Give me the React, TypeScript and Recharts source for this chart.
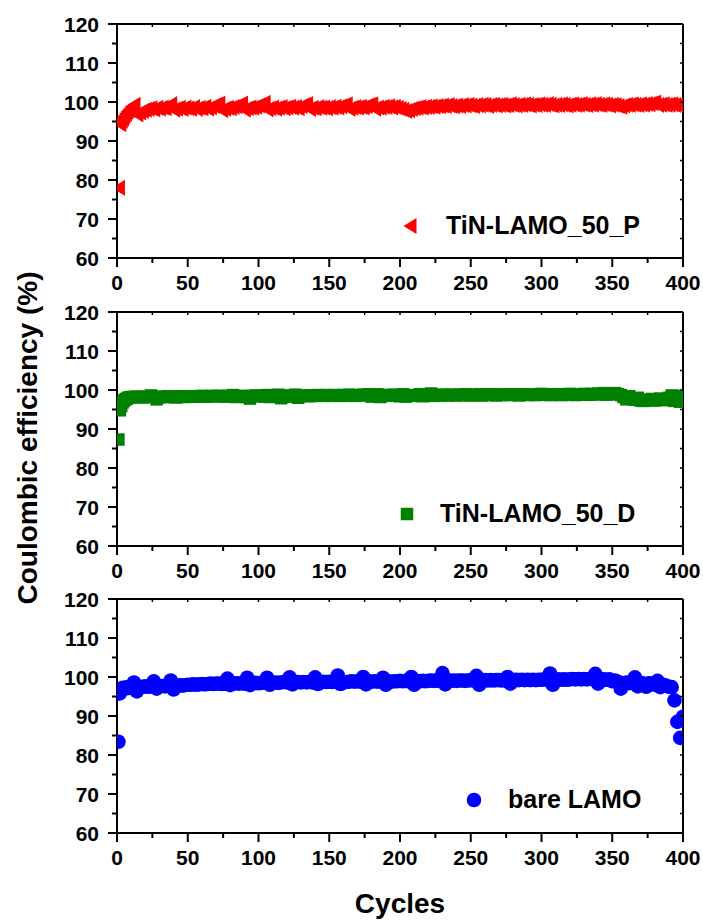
import React from "react";
import { ScatterChart, Scatter, XAxis, YAxis } from "recharts";

const FONT = "'Liberation Sans', Arial, sans-serif";

const xTicks = [0, 25, 50, 75, 100, 125, 150, 175, 200, 225, 250, 275, 300, 325, 350, 375, 400];
const yTicks = [60, 65, 70, 75, 80, 85, 90, 95, 100, 105, 110, 115, 120];

// cycles 1..10
const redEarly = [78, 94.3, 95.2, 95.8, 96.4, 97.0, 97.5, 97.9, 98.3, 98.8];
// cycles 12, 14, ..., 400
const redLate = [
  99.3, 96.8, 97.3, 97.7, 98.0, 98.2, 98.4, 98.1, 98.5, 98.3,
  98.6, 98.4, 98.9, 99.5, 98.0, 98.3, 98.5, 98.2, 98.6, 98.4,
  98.3, 98.7, 98.2, 98.5, 98.4, 98.8, 98.3, 98.6, 99.0, 99.3,
  99.6, 97.9, 98.3, 98.5, 98.4, 98.7, 98.9, 99.2, 99.6, 98.0,
  98.4, 98.6, 98.5, 98.8, 99.1, 99.4, 99.8, 98.1, 98.4, 98.6,
  98.3, 98.5, 98.7, 98.4, 98.6, 98.8, 98.5, 98.7, 98.4, 98.9,
  99.2, 99.5, 98.2, 98.5, 98.4, 98.7, 98.5, 98.6, 98.4, 98.7,
  98.5, 98.8, 98.6, 98.9, 99.1, 99.4, 98.2, 98.5, 98.7, 98.6,
  98.8, 98.6, 98.9, 99.2, 99.4, 98.3, 98.6, 98.5, 98.8, 98.7,
  98.9, 98.6, 98.8, 98.5, 98.3, 98.0, 97.7, 97.9, 98.2, 98.4,
  98.5, 98.7, 98.6, 98.8, 98.7, 98.9, 98.8, 99.0, 98.9, 99.1,
  99.0, 99.2, 99.0, 98.9, 99.1, 99.0, 99.2, 99.1, 99.3, 99.1,
  99.0, 99.2, 99.1, 99.3, 99.2, 99.0, 99.2, 99.3, 99.1, 99.2,
  99.3, 99.1, 99.2, 99.4, 99.2, 99.1, 99.3, 99.2, 99.4, 99.3,
  99.1, 99.3, 99.2, 99.4, 99.3, 99.2, 99.5, 99.3, 99.1, 99.3,
  99.2, 99.4, 99.3, 99.1, 99.3, 99.4, 99.2, 99.3, 99.5, 99.3,
  99.2, 99.4, 99.3, 99.5, 99.3, 99.2, 99.4, 99.3, 99.1, 99.3,
  99.2, 99.0, 98.8, 99.1, 99.3, 99.2, 99.4, 99.3, 99.2, 99.4,
  99.3, 99.5, 99.4, 99.7, 99.9, 99.2, 99.3, 99.4, 99.2, 99.3,
  99.4, 99.2, 99.3, 99.4, 99.3,
];

const greenEarly = [87.3, 94.8, 95.9, 96.8, 97.3, 97.6, 97.8, 98.0, 98.1, 98.2];
const greenLate = [
  98.2, 98.3, 98.2, 98.1, 98.2, 98.3, 98.6, 98.2, 97.6, 98.1,
  98.3, 98.2, 98.4, 98.3, 98.2, 98.1, 98.3, 98.4, 98.2, 98.3,
  98.4, 98.3, 98.4, 98.3, 98.5, 98.4, 98.3, 98.4, 98.5, 98.4,
  98.5, 98.4, 98.3, 98.5, 98.4, 98.7, 98.2, 98.4, 98.5, 98.4,
  98.2, 97.8, 98.5, 98.6, 98.4, 98.5, 98.3, 98.7, 98.2, 98.4,
  98.5, 98.8, 97.9, 98.4, 98.5, 98.6, 98.3, 98.8, 98.0, 98.5,
  98.6, 98.5, 98.4, 98.6, 98.5, 98.7, 98.6, 98.5, 98.7, 98.6,
  98.5, 98.7, 98.6, 98.5, 98.7, 98.6, 98.8, 98.6, 98.5, 98.7,
  98.6, 98.8, 98.7, 98.9, 98.3, 98.6, 98.9, 98.2, 98.7, 98.6,
  98.7, 98.5, 98.8, 98.6, 98.4, 98.9, 98.3, 98.6, 98.5, 98.7,
  98.6, 98.9, 98.4, 98.7, 98.8, 99.1, 98.5, 98.7, 98.6, 98.8,
  98.7, 98.6, 98.8, 98.7, 98.6, 98.8, 98.7, 98.9, 98.7, 98.6,
  98.8, 98.7, 98.9, 98.6, 98.8, 98.7, 98.9, 98.8, 98.6, 98.8,
  98.7, 98.9, 98.8, 98.7, 98.9, 98.8, 98.6, 98.8, 98.9, 98.7,
  98.8, 98.9, 98.7, 98.8, 99.0, 98.8, 98.9, 98.7, 98.8, 98.9,
  98.8, 98.7, 98.9, 98.8, 99.0, 98.9, 98.7, 98.9, 98.8, 99.0,
  98.9, 98.8, 99.0, 98.9, 99.1, 98.9, 99.2, 98.8, 99.0, 99.1,
  99.2, 98.9, 98.7, 98.2, 97.6, 98.4, 97.8, 97.5, 98.0, 97.3,
  97.2, 97.5, 97.4, 97.7, 97.3, 97.6, 97.8, 97.4, 97.5, 98.0,
  98.6, 97.2, 98.4, 97.0, 98.5,
];

const blueEarly = [83.4, 95.8, 96.8, 97.2, 97.0, 97.3, 97.1, 97.4, 97.2, 97.5];
const blueLate = [
  98.6, 96.3, 97.4, 97.5, 97.6, 97.5, 97.6, 98.9, 97.0, 97.6,
  97.7, 97.6, 97.8, 99.1, 96.8, 97.7, 97.9, 97.8, 97.9, 98.0,
  98.0, 98.1, 98.0, 98.1, 98.2, 98.1, 98.2, 98.3, 98.2, 98.3,
  98.3, 98.2, 98.3, 99.6, 97.9, 98.3, 98.4, 98.3, 98.4, 98.3,
  99.8, 97.9, 98.4, 98.5, 98.4, 98.5, 98.6, 99.8, 98.0, 98.5,
  98.6, 98.5, 98.6, 98.7, 98.6, 99.9, 98.1, 98.6, 98.7, 98.6,
  98.7, 98.6, 98.7, 98.6, 99.9, 98.2, 98.7, 98.8, 98.7, 98.8,
  98.7, 98.8, 100.4, 98.2, 98.8, 98.7, 98.8, 98.9, 98.8, 98.9,
  98.8, 100.0, 98.1, 98.9, 98.8, 98.9, 98.8, 98.9, 99.8, 98.0,
  98.9, 98.8, 98.9, 98.9, 99.0, 98.9, 99.0, 98.9, 100.0, 98.0,
  99.0, 98.9, 99.0, 98.9, 99.0, 99.1, 99.0, 99.1, 99.0, 101.0,
  98.1, 99.1, 99.0, 99.1, 99.0, 99.1, 99.1, 99.0, 99.1, 99.2,
  99.1, 100.3, 98.0, 99.1, 99.2, 99.1, 99.2, 99.1, 99.2, 99.2,
  99.1, 99.2, 100.0, 98.3, 99.2, 99.3, 99.2, 99.3, 99.2, 99.3,
  99.2, 99.3, 99.2, 99.3, 99.3, 99.4, 99.3, 100.9, 98.0, 99.3,
  99.4, 99.3, 99.4, 99.3, 99.4, 99.5, 99.4, 99.5, 99.4, 99.5,
  99.4, 99.5, 99.6, 100.8, 98.3, 99.5, 99.4, 99.3, 99.4, 98.9,
  99.1, 98.8, 97.0, 98.3, 98.6, 98.4, 98.5, 99.9, 97.6, 98.5,
  98.3, 97.5, 98.4, 98.3, 98.0, 99.0, 97.4, 98.0, 97.8, 97.5,
  97.4, 94.0, 88.5, 84.4, 89.8,
];

function toPoints(early: number[], late: number[]) {
  const pts = early.map((v, i) => ({ cycle: i + 1, ce: v }));
  late.forEach((v, i) => pts.push({ cycle: 12 + i * 2, ce: v }));
  return pts;
}

const redData = toPoints(redEarly, redLate);
const greenData = toPoints(greenEarly, greenLate);
const blueData = toPoints(blueEarly, blueLate);

const RED = "#ff0000";
const GREEN = "#008000";
const BLUE = "#0000ff";

const triangleShape = (p: any) => (
  <polygon
    points={`${p.cx - 6.5},${p.cy} ${p.cx + 6.5},${p.cy - 8} ${p.cx + 6.5},${p.cy + 8}`}
    fill={RED}
  />
);
const squareShape = (p: any) => (
  <rect x={p.cx - 6.25} y={p.cy - 6.25} width={12.5} height={12.5} fill={GREEN} />
);
const circleShape = (p: any) => <circle cx={p.cx} cy={p.cy} r={7.3} fill={BLUE} />;
const noShape = () => <g />;

const BottomTick = ({ x, y, payload }: any) => {
  const major = payload.value % 50 === 0;
  return (
    <g>
      <line x1={x} x2={x} y1={y} y2={y + (major ? 9 : 5)} stroke="#000" strokeWidth={2} />
      {major && (
        <text x={x} y={y + 32} textAnchor="middle" fontSize={21} fontWeight="bold" fontFamily={FONT} fill="#000">
          {payload.value}
        </text>
      )}
    </g>
  );
};

const LeftTick = ({ x, y, payload }: any) => {
  const major = payload.value % 10 === 0;
  return (
    <g>
      <line x1={x} x2={x - (major ? 9 : 5)} y1={y} y2={y} stroke="#000" strokeWidth={2} />
      {major && (
        <text x={x - 18} y={y} dy="0.36em" textAnchor="end" fontSize={21} fontWeight="bold" fontFamily={FONT} fill="#000">
          {payload.value}
        </text>
      )}
    </g>
  );
};

const TopTick = ({ x, y }: any) => <line x1={x} x2={x} y1={y} y2={y + 3} stroke="#000" strokeWidth={1.5} />;
const RightTick = ({ x, y }: any) => <line x1={x} x2={x - 3} y1={y} y2={y} stroke="#000" strokeWidth={1.5} />;

const axisLine = { stroke: "#000", strokeWidth: 2 };

function Panel({ data, shape, top }: { data: any[]; shape: any; top: number }) {
  return (
    <div style={{ position: "absolute", left: 0, top }}>
      <ScatterChart width={703} height={284} margin={{ top: 9, right: 19, bottom: 0, left: 0 }}>
        <XAxis
          xAxisId="b"
          type="number"
          dataKey="cycle"
          domain={[0, 400]}
          ticks={xTicks}
          interval={0}
          allowDataOverflow
          height={40}
          axisLine={axisLine}
          tickLine={false}
          tickSize={0}
          tickMargin={0}
          tick={BottomTick}
        />
        <XAxis
          xAxisId="t"
          orientation="top"
          type="number"
          dataKey="cycle"
          domain={[0, 400]}
          ticks={xTicks}
          interval={0}
          allowDataOverflow
          height={1}
          axisLine={axisLine}
          tickLine={false}
          tickSize={0}
          tickMargin={0}
          tick={TopTick}
        />
        <YAxis
          yAxisId="l"
          type="number"
          dataKey="ce"
          domain={[60, 120]}
          ticks={yTicks}
          interval={0}
          allowDataOverflow
          width={117}
          axisLine={axisLine}
          tickLine={false}
          tickSize={0}
          tickMargin={0}
          tick={LeftTick}
        />
        <YAxis
          yAxisId="r"
          orientation="right"
          type="number"
          dataKey="ce"
          domain={[60, 120]}
          ticks={yTicks}
          interval={0}
          allowDataOverflow
          width={1}
          axisLine={axisLine}
          tickLine={false}
          tickSize={0}
          tickMargin={0}
          tick={RightTick}
        />
        <Scatter xAxisId="t" yAxisId="r" data={data} shape={noShape} legendType="none" isAnimationActive={false} />
        <Scatter xAxisId="b" yAxisId="l" data={data} shape={shape} isAnimationActive={false} />
      </ScatterChart>
    </div>
  );
}

const legendText = { fontSize: 25, fontWeight: "bold" as const, fontFamily: FONT, fill: "#000" };

export default function App() {
  return (
    <div style={{ position: "absolute", left: 0, top: 0, width: 703, height: 924, background: "#fff" }}>
      <Panel data={redData} shape={triangleShape} top={14} />
      <Panel data={greenData} shape={squareShape} top={302} />
      <Panel data={blueData} shape={circleShape} top={589} />
      <svg width={703} height={924} style={{ position: "absolute", left: 0, top: 0, pointerEvents: "none" }}>
        <polygon points="403.5,226 416.5,218 416.5,234" fill={RED} />
        <text x={446} y={234} {...legendText}>TiN-LAMO_50_P</text>
        <rect x={400.75} y={507.75} width={12.5} height={12.5} fill={GREEN} />
        <text x={440} y={522} {...legendText}>TiN-LAMO_50_D</text>
        <circle cx={474} cy={800} r={7.3} fill={BLUE} />
        <text x={508} y={808} {...legendText}>bare LAMO</text>
        <text
          transform="translate(37, 438) rotate(-90)"
          textAnchor="middle"
          fontSize={28}
          fontWeight="bold"
          fontFamily={FONT}
          fill="#000"
        >
          Coulombic efficiency (%)
        </text>
        <text x={400} y={913} textAnchor="middle" fontSize={28} fontWeight="bold" fontFamily={FONT} fill="#000">
          Cycles
        </text>
      </svg>
    </div>
  );
}
